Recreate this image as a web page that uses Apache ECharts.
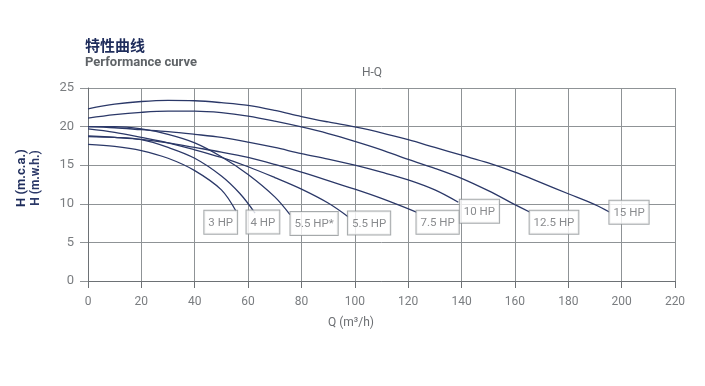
<!DOCTYPE html>
<html>
<head>
<meta charset="utf-8">
<script src="https://cdn.jsdelivr.net/npm/echarts@6/dist/echarts.min.js"></script>
<style>
html,body{margin:0;padding:0;background:#fff;}
#c{width:705px;height:386px;}
</style>
</head>
<body>
<div id="c"></div>
<script>
// ---- data (Q in m3/h, H in m) ----
const curveNames = ['3 HP', '4 HP', '5.5 HP*', '5.5 HP', '7.5 HP', '10 HP', '12.5 HP', '15 HP'];
const hp3   = [[0,17.7],[10,17.45],[20,16.9],[30,15.9],[40,14.3],[50,11.8],[55.7,8.9]];
const hp4   = [[0,18.7],[10,18.6],[20,18.3],[30,17.3],[40,15.9],[50,13.6],[57,11.3],[62.6,8.8]];
const hp55s = [[0,20.0],[10,20.0],[20,19.7],[30,19.0],[40,17.9],[50,16.1],[60,13.8],[70,10.9],[75.7,8.6]];
const hp55  = [[0,19.7],[10,19.25],[20,18.6],[30,17.9],[40,17.0],[50,16.0],[60,14.8],[70,13.4],[80,11.9],[90,10.1],[97.6,8.3]];
const hp75  = [[0,18.8],[10,18.6],[20,18.35],[30,17.9],[40,17.3],[50,16.7],[60,16.0],[70,15.1],[80,14.1],[90,13.0],[100,11.9],[110,10.7],[123.3,8.9]];
const hp10  = [[0,20.0],[10,19.85],[20,19.6],[30,19.35],[40,19.0],[50,18.6],[60,18.0],[70,17.3],[80,16.5],[90,15.8],[100,15.0],[110,14.1],[120,13.1],[130,11.8],[138.8,10.2]];
const hp125 = [[0,21.1],[10,21.55],[20,21.85],[30,22.0],[40,22.0],[50,21.8],[60,21.35],[70,20.7],[80,19.95],[90,19.1],[100,18.1],[110,17.0],[120,15.75],[130,14.6],[140,13.3],[150,11.7],[160,9.9],[165.7,8.9]];
const hp15  = [[0,22.3],[10,22.9],[20,23.25],[30,23.4],[40,23.35],[50,23.1],[60,22.75],[70,22.1],[80,21.3],[90,20.6],[100,19.95],[110,19.2],[120,18.3],[130,17.3],[140,16.3],[150,15.3],[160,14.1],[170,12.7],[180,11.3],[190,9.9],[195.6,8.9]];
const curves = [hp3, hp4, hp55s, hp55, hp75, hp10, hp125, hp15];
const xTicks = {min: 0, max: 220, step: 20};
const yTicks = {min: 0, max: 25, step: 5};

// ---- styles for the end labels (pixel offsets of the boxes) ----
const labelPlace = [
  {pos: [1, -1], align: 'right'},
  {pos: [-8, -2], align: 'left'},
  {pos: [1, -2], align: 'left'},
  {pos: [0, -5], align: 'left'},
  {pos: [0, -1], align: 'left'},
  {pos: [2, -2], align: 'left'},
  {pos: [0, -1], align: 'left'},
  {pos: [0, -11], align: 'left'}
];

const navy = '#2b3868';
const gridCol = '#8f9396';

const series = curves.map((d, i) => ({
  name: curveNames[i],
  type: 'line',
  data: d,
  smooth: 0.35,
  showSymbol: false,
  symbol: 'none',
  lineStyle: {color: navy, width: 1.3},
  silent: true,
  z: 3
}));

series.push({
  type: 'scatter',
  symbol: 'rect',
  symbolSize: 1,
  itemStyle: {color: 'rgba(0,0,0,0)'},
  silent: true,
  z: 5,
  data: curves.map((d, i) => ({
    value: d[d.length - 1],
    label: {
      show: true,
      formatter: curveNames[i],
      position: labelPlace[i].pos,
      align: labelPlace[i].align,
      verticalAlign: 'top',
      color: '#6b6e72',
      fontFamily: 'Roboto, sans-serif',
      fontSize: 11.5,
      lineHeight: 13,
      backgroundColor: '#fff',
      borderColor: '#8f9396',
      borderWidth: 1,
      padding: [6, 4, 4, 4]
    }
  }))
});

const chart = echarts.init(document.getElementById('c'), null, {renderer: 'canvas'});
chart.setOption({
  animation: false,
  backgroundColor: '#fff',
  grid: {left: 88, right: 30, top: 88, bottom: 105, containLabel: false},
  xAxis: {
    type: 'value',
    min: xTicks.min, max: xTicks.max, interval: xTicks.step,
    axisLine: {show: true, lineStyle: {color: '#6d7175', width: 1}},
    axisTick: {show: true, length: 7, lineStyle: {color: '#6d7175'}},
    axisLabel: {color: '#7a7d80', fontSize: 12, margin: 15, fontFamily: 'Roboto, sans-serif'},
    splitLine: {show: true, lineStyle: {color: gridCol, width: 1}}
  },
  yAxis: {
    type: 'value',
    min: yTicks.min, max: yTicks.max, interval: yTicks.step,
    axisLine: {show: true, lineStyle: {color: '#6d7175', width: 1}},
    axisTick: {show: true, length: 8, lineStyle: {color: gridCol}},
    axisLabel: {color: '#7a7d80', fontSize: 13, margin: 14, fontFamily: 'Roboto, sans-serif'},
    splitLine: {show: true, lineStyle: {color: gridCol, width: 1}}
  },
  graphic: [
    {type: 'text', left: 85, top: 38, style: {text: '特性曲线', font: 'bold 15px "Noto Sans CJK SC", sans-serif', fill: '#1f2d5c'}},
    {type: 'text', left: 85, top: 56, style: {text: 'Performance curve', font: 'bold 13px Roboto, sans-serif', fill: '#5f6367'}},
    {type: 'text', x: 372, y: 73, style: {text: 'H-Q', font: '12px Roboto, sans-serif', fill: '#6b6e72', align: 'center', verticalAlign: 'middle'}},
    {type: 'text', x: 351, y: 323, style: {text: 'Q (m³/h)', font: '12px Roboto, sans-serif', fill: '#6b6e72', align: 'center', verticalAlign: 'middle'}},
    {type: 'text', x: 22, y: 178, rotation: Math.PI / 2, style: {text: 'H (m.c.a.)', font: 'bold 13px Roboto, sans-serif', fill: '#1f2d5c', align: 'center', verticalAlign: 'middle'}},
    {type: 'text', x: 36, y: 178, rotation: Math.PI / 2, style: {text: 'H (m.w.h.)', font: 'bold 12px Roboto, sans-serif', fill: '#2b3868', align: 'center', verticalAlign: 'middle'}}
  ],
  series: series
});
</script>
</body>
</html>
